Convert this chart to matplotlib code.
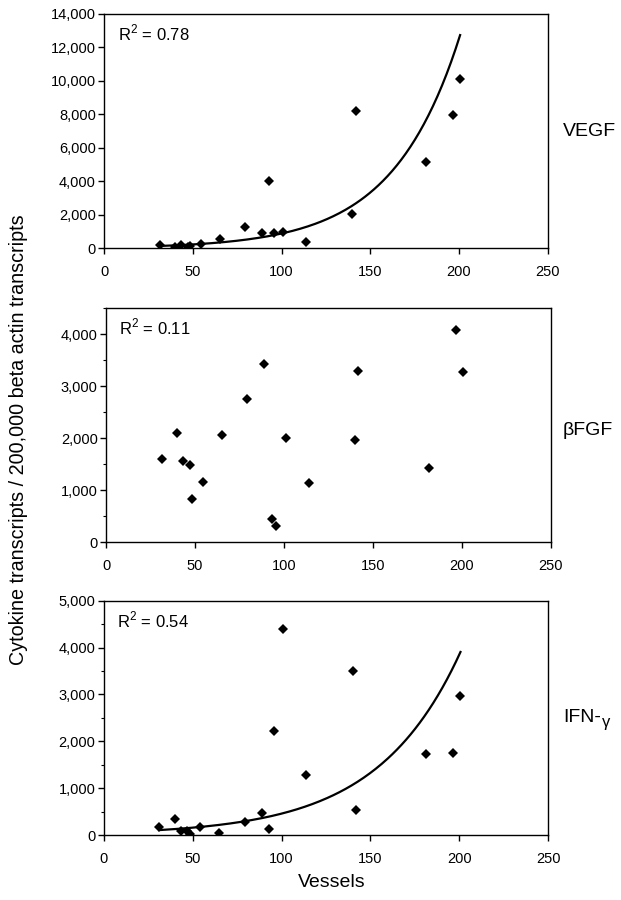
import numpy as np
import matplotlib
matplotlib.use("Agg")
import matplotlib.pyplot as plt
from matplotlib.ticker import MultipleLocator, FuncFormatter

plt.rcParams['font.family'] = ['Liberation Sans', 'DejaVu Sans']
plt.rcParams['mathtext.fontset'] = 'custom'
plt.rcParams['mathtext.rm'] = 'Liberation Sans'

# Data
vessels = [31.3, 40.0, 43.2, 47.0, 48.4, 54.3, 65.1, 79.2, 89.0, 93.1, 95.8, 100.9,
           113.9, 139.9, 141.7, 181.4, 196.5, 200.6]
vegf = [200, 60, 200, 80, 150, 250, 570, 1290, 910, 4010, 910, 950,
        375, 2025, 8200, 5160, 7980, 10080]
bfgf = [1608, 2111, 1556, 1493, 835, 1160, 2073, 2749, 3432, 440, 312, 2010,
        1135, 1964, 3304, 1428, 4089, 3285]
ifng = [177, 335, 92, 92, 28, 177, 36, 270, 476, 135, 2219, 4402,
        1280, 3506, 540, 1722, 1743, 2960]

cytokine_main = ["VEGF", "βFGF", "IFN-"]
cytokine_suffix = ["", "", "γ"]
r2_labels = ["0.78", "0.11", "0.54"]
has_trend = [True, False, True]
ymax = [14000, 4500, 5000]
ymajor = [2000, 1000, 1000]
yminor = [None, 500, 500]
xticks = [0, 50, 100, 150, 200, 250]

fig = plt.figure(figsize=(6.21, 9.0), dpi=100)
rects = [
    [0.168, 0.724, 0.714, 0.261],
    [0.1707, 0.3974, 0.7163, 0.26],
    [0.167, 0.0722, 0.716, 0.2604],
]
series = [vegf, bfgf, ifng]
label_y = [1 - 131 / 900, 1 - 430 / 900, 1 - 718 / 900]

fmt = FuncFormatter(lambda v, p: f"{int(round(v)):,}")
x = np.array(vessels)
for i, r in enumerate(rects):
    ax = fig.add_axes(r)
    y = np.array(series[i], dtype=float)
    ax.plot(x, y, linestyle='none', marker='D', markersize=4.6, color='black',
            markeredgewidth=0)
    if has_trend[i]:
        b, lna = np.polyfit(x, np.log(y), 1)
        xx = np.linspace(x.min(), x.max(), 200)
        ax.plot(xx, np.exp(lna) * np.exp(b * xx), color='black', lw=1.6)
    ax.set_xlim(0, 250)
    ax.set_ylim(0, ymax[i])
    ax.set_xticks(xticks)
    ax.yaxis.set_major_locator(MultipleLocator(ymajor[i]))
    if yminor[i]:
        ax.yaxis.set_minor_locator(MultipleLocator(yminor[i]))
    ax.yaxis.set_major_formatter(fmt)
    ax.tick_params(axis='both', which='major', direction='out', length=4,
                   width=1, labelsize=10.5, colors='black')
    ax.tick_params(axis='y', which='major', pad=2)
    ax.tick_params(axis='x', which='major', pad=8)
    ax.tick_params(axis='y', which='minor', direction='out', length=2.5, width=0.8)
    for s in ax.spines.values():
        s.set_linewidth(1.0)
        s.set_color('black')
    ax.text(0.03, 0.918, r"R$^{\mathregular{2}}$ = " + r2_labels[i],
            transform=ax.transAxes, fontsize=12, va='center', ha='left')
    t = fig.text(563 / 621, label_y[i], cytokine_main[i], fontsize=14,
                 va='center', ha='left')
    if cytokine_suffix[i]:
        fig.text(602 / 621, label_y[i] - 5 / 900, cytokine_suffix[i], fontsize=12,
                 va='center', ha='left')

fig.text(0.030, 0.512, "Cytokine transcripts / 200,000 beta actin transcripts",
         rotation=90, fontsize=14.2, va='center', ha='center')
fig.text(332 / 621, 0.019, "Vessels", fontsize=14, va='center', ha='center')

fig.savefig("out.png", dpi=100)
